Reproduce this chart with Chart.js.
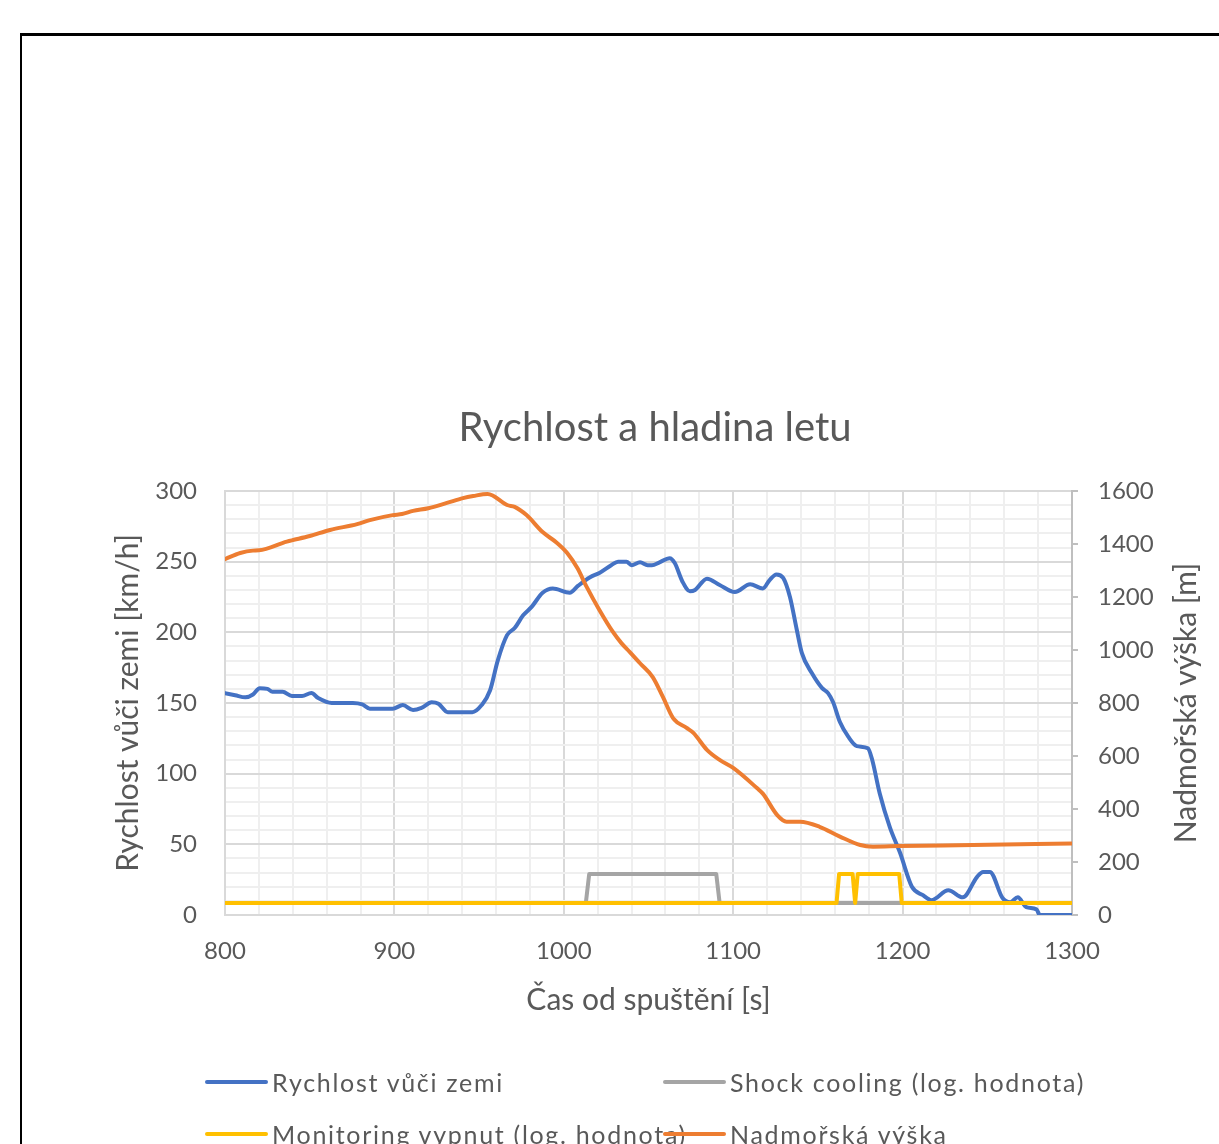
<!DOCTYPE html>
<html>
<head>
<meta charset="utf-8">
<title>Rychlost a hladina letu</title>
<script src="https://cdn.jsdelivr.net/npm/chart.js@4.4.1/dist/chart.umd.min.js"></script>
<style>
  html, body { margin: 0; padding: 0; background: #fff; overflow: hidden; }
  #wrap { position: relative; width: 1219px; height: 1144px; overflow: hidden; background: #fff; }
  #frame { position: absolute; left: 20px; top: 33px; width: 1300px; height: 1300px;
           border-top: 3px solid #000; border-left: 2px solid #000; pointer-events: none; }
  #legend { position: absolute; left: 0; top: 0; width: 1219px; height: 1144px; pointer-events: none; }
  .txt { position: absolute; font-family: Lato, "Open Sans", sans-serif; font-size: 25px; line-height: 30px;
         color: #595959; letter-spacing: 1.7px; white-space: nowrap; }
  .sw { position: absolute; width: 63px; height: 4px; border-radius: 2px; z-index: 2; }
</style>
</head>
<body>
<div id="wrap">
  <canvas id="chart" width="1219" height="1144"></canvas>
  <div id="legend"></div>
  <div id="frame"></div>
</div>
<script>
'use strict';

// time [s] / ground speed [km/h]
const speedTime = [800, 806, 812, 816.5, 820.5, 825, 828, 834, 839.5, 845.5, 851, 855, 863, 868, 875.5, 881, 885.5, 899,
  905, 911, 916, 922, 926, 931.5, 946, 951.5, 956.5, 961, 966.5, 971, 976, 981, 987.5, 993.5, 1003.5, 1008.5, 1015.5,
  1021, 1028, 1032, 1037, 1040, 1045, 1049.5, 1052, 1056.5, 1062.5, 1065.5, 1070, 1074.5, 1077.5, 1084.5, 1092, 1101,
  1110, 1117.5, 1121.5, 1125.5, 1129.5, 1133.5, 1137.5, 1140.5, 1146.5, 1152.5, 1156, 1159, 1163, 1168, 1173, 1179.5,
  1182, 1186.5, 1192.5, 1198.5, 1205.5, 1212, 1217, 1227, 1235.5, 1244, 1247.5, 1251.5, 1259, 1263.5, 1268, 1273,
  1279, 1281, 1300];
const speedValues = [157, 155.5, 154, 156, 160.5, 160, 158, 158, 155, 155, 157, 153.5, 150, 150, 150, 149, 146, 146,
  148.5, 145, 146.5, 150.5, 149.5, 143.5, 143.5, 148.5, 159, 180, 198, 203, 212, 218, 228, 231, 228, 233, 239,
  242, 247.5, 250, 250, 247.5, 249.5, 247.5, 247.5, 249.5, 252.5, 249, 236, 229, 230, 238, 233.5, 228.5,
  234, 231, 237, 241, 238.5, 225, 202, 185.5, 171, 160.5, 157, 150.5, 136.5, 126, 119.5, 118,
  110, 86, 62, 44, 20, 14, 10.5, 17.5, 12.5, 27, 30.5, 30.5, 12, 9, 12.5, 5.5,
  4, 0, 0];

// time [s] / altitude [m]
const altTime = [800, 809, 816.5, 820, 836.5, 850, 862, 878, 885.5, 899, 904.5, 911, 920, 931, 940.5, 946.5, 955, 958,
  966.5, 971, 978, 987.5, 996, 1002, 1008, 1013.5, 1021, 1029, 1034, 1039, 1045, 1052.5, 1058.5, 1064.5, 1072.5,
  1076.5, 1084.5, 1092, 1100, 1114, 1117.5, 1126, 1131.5, 1139.5, 1151, 1163, 1175, 1182.5, 1198.5, 1241.5, 1300];
const altValues = [1343, 1366, 1375, 1376, 1409, 1430, 1453, 1475, 1490, 1509, 1513, 1525, 1535, 1555, 1573, 1581, 1589, 1583,
  1547, 1540, 1509, 1445, 1404, 1366, 1309, 1238, 1151, 1068, 1026, 992, 950, 898, 823, 743, 706,
  687, 623, 585, 555, 479, 458, 377, 352, 352, 333, 296, 264, 258, 260, 264, 270];

// logical signals, drawn against the speed axis
const coolingTime = [800, 1013, 1015, 1090, 1092, 1300];
const coolingValues = [8.5, 8.5, 29, 29, 8.5, 8.5];
const monitorTime = [800, 1161, 1162.5, 1170.5, 1172, 1173.5, 1198, 1199.5, 1300];
const monitorValues = [8.5, 8.5, 29, 29, 8.5, 29, 29, 8.5, 8.5];

const TEXT = '#595959';
const FONT = 'Lato, "Open Sans", sans-serif';
const GRID_MAJOR = '#d9d9d9';
const GRID_MINOR = '#efefef';
const RIGHT_TITLE = 'Nadmořská výška [m]';

const toPoints = (xs, ys) => xs.map((x, i) => ({ x, y: ys[i] }));

const datasets = [
  { label: 'Rychlost vůči zemi', data: toPoints(speedTime, speedValues), borderColor: '#4472C4',
    yAxisID: 'y', order: 4, cubicInterpolationMode: 'monotone' },
  { label: 'Shock cooling (log. hodnota)', data: toPoints(coolingTime, coolingValues), borderColor: '#A5A5A5',
    yAxisID: 'y', order: 3, tension: 0 },
  { label: 'Monitoring vypnut (log. hodnota)', data: toPoints(monitorTime, monitorValues), borderColor: '#FFC000',
    yAxisID: 'y', order: 2, tension: 0 },
  { label: 'Nadmořská výška', data: toPoints(altTime, altValues), borderColor: '#ED7D31',
    yAxisID: 'y2', order: 1, cubicInterpolationMode: 'monotone' },
];

// right axis title reads bottom-to-top in the original, Chart.js turns it the other way
const rightTitle = {
  id: 'rightTitle',
  afterDraw(chart) {
    const { ctx, chartArea } = chart;
    const s = chart.scales.y2;
    ctx.save();
    ctx.translate(s.right - 33, (chartArea.top + chartArea.bottom) / 2);
    ctx.rotate(-Math.PI / 2);
    ctx.font = '30px ' + FONT;
    ctx.fillStyle = TEXT;
    ctx.textAlign = 'center';
    ctx.textBaseline = 'middle';
    ctx.fillText(RIGHT_TITLE, 0, 0);
    ctx.restore();
  },
};

const ctx = document.getElementById('chart').getContext('2d');
const chart = new Chart(ctx, {
  type: 'line',
  data: { datasets },
  plugins: [rightTitle],
  options: {
    responsive: false,
    animation: false,
    elements: {
      point: { radius: 0 },
      line: { borderWidth: 4, borderCapStyle: 'round', borderJoinStyle: 'round', fill: false },
    },
    layout: { padding: { top: 404, left: 91, right: 0, bottom: 0 } },
    plugins: {
      legend: { display: false },
      tooltip: { enabled: false },
      title: {
        display: true,
        text: 'Rychlost a hladina letu',
        color: TEXT,
        font: { family: FONT, size: 40, weight: 'normal' },
        padding: { top: 0, bottom: 39 },
      },
    },
    scales: {
      x: {
        type: 'linear',
        min: 800,
        max: 1300,
        afterFit: s => { s.height = 229; },
        ticks: {
          stepSize: 20,
          autoSkip: false,
          maxRotation: 0,
          callback: v => (v % 100 === 0 ? String(v) : ''),
          color: TEXT,
          font: { family: FONT, size: 24 },
          padding: 22,
        },
        grid: { color: c => (c.tick && c.tick.value % 100 === 0 ? GRID_MAJOR : GRID_MINOR), lineWidth: 2, drawTicks: false },
        border: { color: GRID_MAJOR, width: 2 },
        title: {
          display: true,
          text: 'Čas od spuštění [s]',
          color: TEXT,
          font: { family: FONT, size: 30 },
          padding: { top: 0, bottom: 126 },
        },
      },
      y: {
        position: 'left',
        min: 0,
        max: 300,
        afterFit: s => { s.width = 134; },
        ticks: {
          stepSize: 10,
          autoSkip: false,
          callback: v => (v % 50 === 0 ? String(v) : ''),
          color: TEXT,
          font: { family: FONT, size: 24 },
          padding: 28,
        },
        grid: { color: c => (c.tick && c.tick.value % 50 === 0 ? GRID_MAJOR : GRID_MINOR), lineWidth: 2, drawTicks: false },
        border: { color: GRID_MAJOR, width: 2 },
        title: {
          display: true,
          text: 'Rychlost vůči zemi [km/h]',
          color: TEXT,
          font: { family: FONT, size: 30 },
          padding: { top: 19, bottom: 0 },
        },
      },
      y2: {
        position: 'right',
        min: 0,
        max: 1600,
        afterFit: s => { s.width = 147; },
        ticks: {
          stepSize: 200,
          autoSkip: false,
          callback: v => String(v),
          color: TEXT,
          font: { family: FONT, size: 24 },
          padding: 20,
        },
        grid: { drawOnChartArea: false, drawTicks: true, tickLength: 6, color: '#bfbfbf', lineWidth: 2 },
        border: { color: '#bfbfbf', width: 2 },
        title: { display: false },
      },
    },
  },
});

// legend laid out in two fixed columns like the original
const legendSlots = [[205, 1082], [663, 1082], [205, 1134], [663, 1134]];
const legendEl = document.getElementById('legend');
chart.data.datasets.forEach((ds, i) => {
  const [x, y] = legendSlots[i];
  const sw = document.createElement('div');
  sw.className = 'sw';
  sw.style.left = x + 'px';
  sw.style.top = (y - 2) + 'px';
  sw.style.background = ds.borderColor;
  const txt = document.createElement('div');
  txt.className = 'txt';
  txt.style.left = (x + 67) + 'px';
  txt.style.top = (y - 15) + 'px';
  txt.textContent = ds.label;
  legendEl.appendChild(txt);
  legendEl.appendChild(sw);
});
</script>
</body>
</html>
